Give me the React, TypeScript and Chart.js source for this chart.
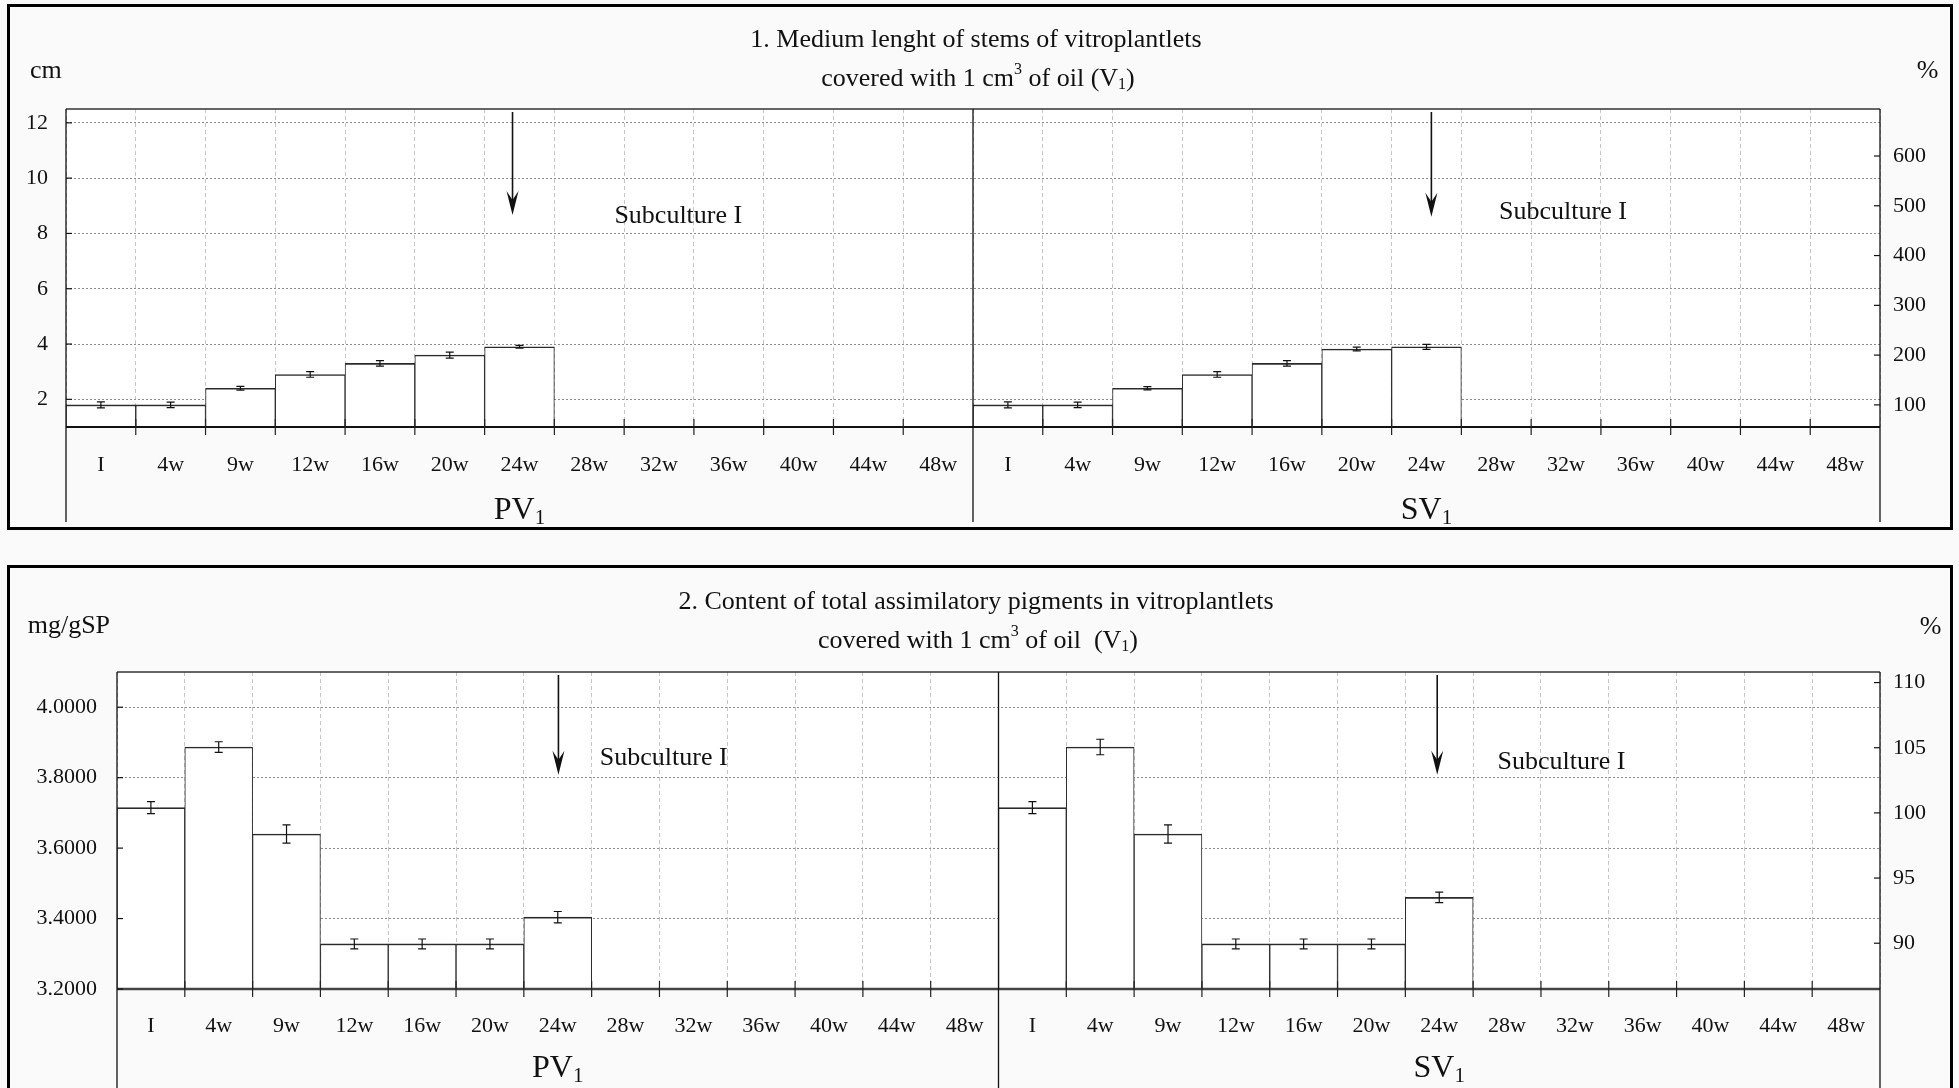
import React, { useEffect, useRef } from "react";
import { Chart, registerables } from "chart.js";
Chart.register(...registerables);

// ---------- data ----------
const weeks = ["I", "4w", "9w", "12w", "16w", "20w", "24w", "28w", "32w", "36w", "40w", "44w", "48w"];
const sectionNames = ["PV", "SV"];

const stemPV = [1.8, 1.8, 2.4, 2.9, 3.3, 3.6, 3.9];
const stemPVErr = [0.11, 0.1, 0.07, 0.1, 0.1, 0.11, 0.05];
const stemSV = [1.8, 1.8, 2.4, 2.9, 3.3, 3.82, 3.9];
const stemSVErr = [0.11, 0.1, 0.06, 0.1, 0.1, 0.07, 0.09];
const stemLeftTicks = [2, 4, 6, 8, 10, 12];
const stemRightTicks = [100, 200, 300, 400, 500, 600];
const stemBase = 1.8; // 100 %

const pigPV = [3.715, 3.887, 3.64, 3.328, 3.328, 3.328, 3.404];
const pigPVErr = [0.017, 0.015, 0.026, 0.014, 0.014, 0.014, 0.016];
const pigSV = [3.715, 3.887, 3.64, 3.328, 3.328, 3.328, 3.46];
const pigSVErr = [0.017, 0.022, 0.026, 0.014, 0.014, 0.014, 0.015];
const pigLeftTicks = [3.2, 3.4, 3.6, 3.8, 4.0];
const pigRightTicks = [90, 95, 100, 105, 110];
const pigBase = 3.7; // 100 %

// [category position, value]
const stemArrows = [[5.9, 8.67], [19.07, 8.6]];
const stemNotes = [[7.36, 8.38], [20.04, 8.51]];
const pigArrows = [[6.01, 3.808], [18.97, 3.808]];
const pigNotes = [[6.62, 3.835], [19.86, 3.825]];

const FONT = "'Liberation Serif', 'Times New Roman', Times, serif";

function spread(a: number[], b: number[]) {
  const out: (number | null)[] = new Array(26).fill(null);
  a.forEach((v, i) => (out[i] = v));
  b.forEach((v, i) => (out[13 + i] = v));
  return out;
}

type Part = [string, "n" | "sup" | "sub"];

function drawRich(ctx: CanvasRenderingContext2D, parts: Part[], cx: number, cy: number, size: number, small: number) {
  ctx.save();
  ctx.textBaseline = "middle";
  ctx.textAlign = "left";
  ctx.fillStyle = "#111";
  let total = 0;
  const ws = parts.map(([t, m]) => {
    ctx.font = `${m === "n" ? size : small}px ${FONT}`;
    const w = ctx.measureText(t).width;
    total += w;
    return w;
  });
  let x = cx - total / 2;
  parts.forEach(([t, m], i) => {
    ctx.font = `${m === "n" ? size : small}px ${FONT}`;
    const dy = m === "sup" ? -size * 0.36 : m === "sub" ? size * 0.22 : 0;
    ctx.fillText(t, x, cy + dy);
    x += ws[i];
  });
  ctx.restore();
}

type PanelCfg = {
  top: number;
  height: number;
  plotTop: number;
  leftW: number;
  xH: number;
  yMin: number;
  yMax: number;
  leftTicks: number[];
  rightTicks: number[];
  base: number;
  decimals: number;
  leftPad: number;
  pv: number[];
  pvErr: number[];
  sv: number[];
  svErr: number[];
  arrows: number[][];
  notes: number[][];
  title1: string;
  title2: Part[];
  titleY: [number, number];
  unit: string;
  unitX: number;
  unitY: number;
  pctX: number;
  pctY: number;
  sectionY: number;
  xPad: number;
  axisW: number;
  axisColor: string;
  lineBottom: number;
};

const W = 1940;

function Panel({ cfg }: { cfg: PanelCfg }) {
  const ref = useRef<HTMLCanvasElement>(null);
  useEffect(() => {
    const canvas = ref.current!;
    const values = spread(cfg.pv, cfg.sv);
    const errs = spread(cfg.pvErr, cfg.svErr);
    const labels = [...weeks, ...weeks];

    const decor = {
      id: "decor",
      beforeDraw(chart: any) {
        const { ctx, chartArea: a } = chart;
        ctx.save();
        ctx.fillStyle = "#ffffff";
        ctx.fillRect(a.left, a.top, a.right - a.left, a.bottom - a.top);
        ctx.restore();
      },
      afterDatasetsDraw(chart: any) {
        const { ctx, chartArea: a } = chart;
        const x = chart.scales.x;
        const y = chart.scales.y;
        const meta = chart.getDatasetMeta(0);
        ctx.save();
        // error bars
        ctx.strokeStyle = "#111";
        ctx.lineWidth = 1.2;
        values.forEach((v, i) => {
          if (v == null) return;
          const e = errs[i] as number;
          const px = meta.data[i].x;
          const y1 = y.getPixelForValue(v + e);
          const y2 = y.getPixelForValue(v - e);
          ctx.beginPath();
          ctx.moveTo(px, y1);
          ctx.lineTo(px, y2);
          ctx.moveTo(px - 4, y1);
          ctx.lineTo(px + 4, y1);
          ctx.moveTo(px - 4, y2);
          ctx.lineTo(px + 4, y2);
          ctx.stroke();
        });
        // arrows
        cfg.arrows.forEach(([pos, val]) => {
          const px = x.getPixelForValue(pos);
          const tip = y.getPixelForValue(val);
          ctx.strokeStyle = "#111";
          ctx.fillStyle = "#111";
          ctx.lineWidth = 1.6;
          ctx.beginPath();
          ctx.moveTo(px, a.top + 3);
          ctx.lineTo(px, tip - 10);
          ctx.stroke();
          ctx.beginPath();
          ctx.moveTo(px, tip);
          ctx.lineTo(px - 6, tip - 24);
          ctx.lineTo(px, tip - 15);
          ctx.lineTo(px + 6, tip - 24);
          ctx.closePath();
          ctx.fill();
        });
        // notes
        ctx.font = `26px ${FONT}`;
        ctx.fillStyle = "#111";
        ctx.textAlign = "left";
        ctx.textBaseline = "alphabetic";
        cfg.notes.forEach(([pos, val]) => {
          ctx.fillText("Subculture I", x.getPixelForValue(pos), y.getPixelForValue(val));
        });
        ctx.restore();
      },
      afterDraw(chart: any) {
        const { ctx, chartArea: a } = chart;
        const x = chart.scales.x;
        const y = chart.scales.y;
        const y2s = chart.scales.y2;
        ctx.save();
        // top border
        ctx.strokeStyle = "#333";
        ctx.lineWidth = 1.6;
        ctx.beginPath();
        ctx.moveTo(a.left, a.top);
        ctx.lineTo(a.right, a.top);
        ctx.stroke();
        // x axis line
        ctx.strokeStyle = cfg.axisColor;
        ctx.lineWidth = cfg.axisW;
        ctx.beginPath();
        ctx.moveTo(a.left, a.bottom);
        ctx.lineTo(a.right, a.bottom);
        ctx.stroke();
        // vertical lines: left axis, divider, right axis
        ctx.strokeStyle = "#111";
        ctx.lineWidth = 1.3;
        const w = (a.right - a.left) / 26;
        [a.left, a.left + 13 * w, a.right].forEach((px) => {
          ctx.beginPath();
          ctx.moveTo(px, a.top);
          ctx.lineTo(px, cfg.lineBottom);
          ctx.stroke();
        });
        // x tick marks crossing the axis
        ctx.lineWidth = 1.2;
        ctx.strokeStyle = "#222";
        for (let i = 1; i < 26; i++) {
          if (i === 13) continue;
          const px = a.left + i * w;
          ctx.beginPath();
          ctx.moveTo(px, a.bottom - 8);
          ctx.lineTo(px, a.bottom + 8);
          ctx.stroke();
        }
        // y tick marks (inward)
        ctx.strokeStyle = "#111";
        ctx.lineWidth = 1.2;
        cfg.leftTicks.forEach((v) => {
          const py = y.getPixelForValue(v);
          ctx.beginPath();
          ctx.moveTo(a.left, py);
          ctx.lineTo(a.left + 6, py);
          ctx.stroke();
        });
        cfg.rightTicks.forEach((v) => {
          const py = y2s.getPixelForValue(v);
          ctx.beginPath();
          ctx.moveTo(a.right - 6, py);
          ctx.lineTo(a.right, py);
          ctx.stroke();
        });
        // titles
        ctx.fillStyle = "#111";
        ctx.font = `26px ${FONT}`;
        ctx.textAlign = "center";
        ctx.textBaseline = "middle";
        ctx.fillText(cfg.title1, 966, cfg.titleY[0]);
        drawRich(ctx, cfg.title2, 968, cfg.titleY[1], 26, 16);
        // units
        ctx.font = `26px ${FONT}`;
        ctx.textAlign = "left";
        ctx.fillText(cfg.unit, cfg.unitX, cfg.unitY);
        ctx.textAlign = "center";
        ctx.fillText("%", cfg.pctX, cfg.pctY);
        // section labels
        sectionNames.forEach((s, k) => {
          const cx = x.getPixelForValue(6 + 13 * k);
          drawRich(ctx, [[s, "n"], ["1", "sub"]], cx, cfg.sectionY, 32, 21);
        });
        ctx.restore();
      },
    };

    const tickFont = { family: FONT, size: 22 };
    const chart = new Chart(canvas, {
      type: "bar",
      data: {
        labels,
        datasets: [
          {
            data: values as any,
            backgroundColor: "#ffffff",
            borderColor: "#2a2a2a",
            borderWidth: { top: 1.6, left: 1, right: 1, bottom: 0 } as any,
            borderSkipped: false as any,
            categoryPercentage: 1,
            barPercentage: 1,
          },
        ],
      },
      options: {
        responsive: false,
        animation: false,
        devicePixelRatio: 1,
        layout: { padding: { top: cfg.plotTop, left: 0, right: 0, bottom: 0 } },
        plugins: { legend: { display: false }, tooltip: { enabled: false }, title: { display: false } },
        scales: {
          x: {
            type: "category",
            offset: true,
            grid: { offset: true, color: "#c6c6c6", lineWidth: 1, drawTicks: false, tickLength: 0 },
            border: { display: false, dash: [4, 3] },
            ticks: { font: tickFont, color: "#111", padding: cfg.xPad, autoSkip: false, maxRotation: 0 },
            afterFit: (s: any) => {
              s.height = cfg.xH;
            },
          },
          y: {
            type: "linear",
            position: "left",
            min: cfg.yMin,
            max: cfg.yMax,
            grid: { color: "#8c8c8c", lineWidth: 1, drawTicks: false, tickLength: 0 },
            border: { display: false, dash: [2, 2] },
            ticks: {
              font: tickFont,
              color: "#111",
              padding: cfg.leftPad,
              callback: (v: any) => Number(v).toFixed(cfg.decimals),
            },
            afterBuildTicks: (s: any) => {
              s.ticks = cfg.leftTicks.map((v) => ({ value: v }));
            },
            afterFit: (s: any) => {
              s.width = cfg.leftW;
            },
          },
          y2: {
            type: "linear",
            position: "right",
            min: (cfg.yMin / cfg.base) * 100,
            max: (cfg.yMax / cfg.base) * 100,
            grid: { display: false, drawTicks: false, tickLength: 0 },
            border: { display: false },
            ticks: { font: tickFont, color: "#111", padding: 13 },
            afterBuildTicks: (s: any) => {
              s.ticks = cfg.rightTicks.map((v) => ({ value: v }));
            },
            afterFit: (s: any) => {
              s.width = 70;
            },
          },
        },
      },
      plugins: [decor],
    });
    return () => chart.destroy();
  }, [cfg]);

  return (
    <div
      style={{
        position: "absolute",
        left: 7,
        top: cfg.top,
        width: 1946,
        height: cfg.height + 6,
        boxSizing: "border-box",
        border: "3px solid #000",
        background: "#fafafa",
      }}
    >
      <canvas ref={ref} width={W} height={cfg.height} style={{ display: "block", width: W, height: cfg.height }} />
    </div>
  );
}

const stemCfg: PanelCfg = {
  top: 4,
  height: 520,
  plotTop: 102,
  leftW: 56,
  xH: 100,
  yMin: 1,
  yMax: 12.5,
  leftTicks: stemLeftTicks,
  rightTicks: stemRightTicks,
  base: stemBase,
  decimals: 0,
  leftPad: 18,
  pv: stemPV,
  pvErr: stemPVErr,
  sv: stemSV,
  svErr: stemSVErr,
  arrows: stemArrows,
  notes: stemNotes,
  title1: "1. Medium lenght of stems of vitroplantlets",
  title2: [["covered with 1 cm", "n"], ["3", "sup"], [" of oil (V", "n"], ["1", "sub"], [")", "n"]],
  titleY: [33.5, 72],
  unit: "cm",
  unitX: 20,
  unitY: 64.5,
  pctX: 1917.6,
  pctY: 64.5,
  sectionY: 504,
  xPad: 25,
  axisW: 1.8,
  axisColor: "#111",
  lineBottom: 515,
};

const pigCfg: PanelCfg = {
  top: 565,
  height: 524,
  plotTop: 104,
  leftW: 107,
  xH: 103,
  yMin: 3.2,
  yMax: 4.1,
  leftTicks: pigLeftTicks,
  rightTicks: pigRightTicks,
  base: pigBase,
  decimals: 4,
  leftPad: 20,
  pv: pigPV,
  pvErr: pigPVErr,
  sv: pigSV,
  svErr: pigSVErr,
  arrows: pigArrows,
  notes: pigNotes,
  title1: "2. Content of total assimilatory pigments in vitroplantlets",
  title2: [["covered with 1 cm", "n"], ["3", "sup"], [" of oil  (V", "n"], ["1", "sub"], [")", "n"]],
  titleY: [34, 73],
  unit: "mg/gSP",
  unitX: 17.7,
  unitY: 58,
  pctX: 1920.5,
  pctY: 59,
  sectionY: 501,
  xPad: 24,
  axisW: 2.7,
  axisColor: "#444",
  lineBottom: 524,
};

export default function App() {
  return (
    <div style={{ position: "absolute", left: 0, top: 0, width: 1959, height: 1088, background: "#fafafa", overflow: "hidden" }}>
      <Panel cfg={stemCfg} />
      <Panel cfg={pigCfg} />
    </div>
  );
}
